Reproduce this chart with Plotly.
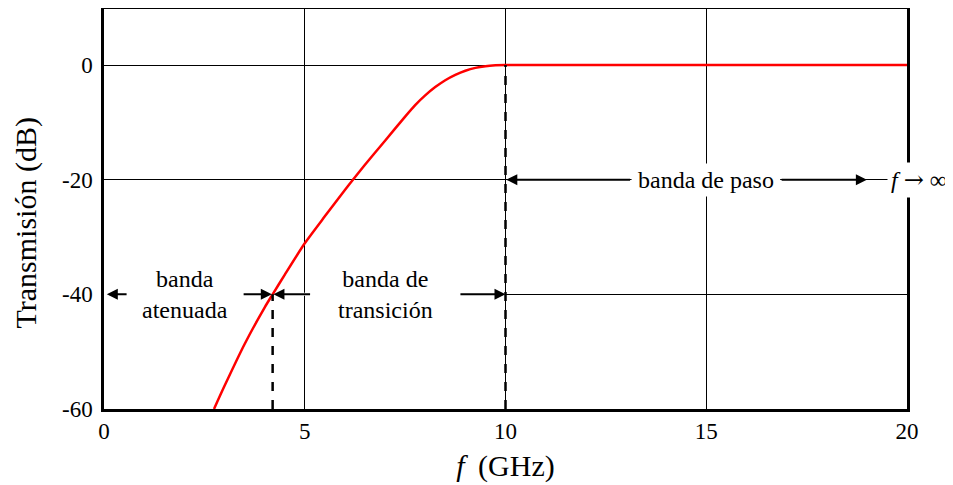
import plotly.graph_objects as go

# Data
freq_ghz = [2.74, 3.0, 3.5, 4.0, 4.2, 4.5, 5.0, 5.5, 6.0, 6.2, 6.5, 7.0, 7.5, 7.75, 8.0, 8.25, 8.5, 8.75, 9.0, 9.25, 9.5, 9.75, 10.0,
            10.5, 11.0, 12.0, 13.0, 14.0, 15.0, 16.0, 17.0, 18.0, 19.0, 20.0]
trans_db = [-60.0, -56.0, -48.7, -42.3, -40.0, -36.6, -31.1, -26.4, -21.8, -20.0, -17.4, -13.2, -9.0, -7.0, -5.3, -3.85, -2.65, -1.72, -1.0, -0.5, -0.2, -0.05, 0.0,
            0.0, 0.0, 0.0, 0.0, 0.0, 0.0, 0.0, 0.0, 0.0, 0.0, 0.0]

x_ticks = [0, 5, 10, 15, 20]
y_ticks = [-60, -40, -20, 0]
y_ticktext = ["-60", "-40", "-20", "0"]

stop_edge = 4.2      # GHz, -40 dB point
pass_edge = 10.0     # GHz, 0 dB point
level_stop = -40
level_pass = -20

FONT = "Liberation Serif"

fig = go.Figure()
fig.add_trace(go.Scatter(x=freq_ghz, y=trans_db, mode="lines",
                         line=dict(color="#ff0000", width=2.5, shape="spline", smoothing=0.6),
                         showlegend=False, hoverinfo="skip"))

shapes = [
    # dashed markers
    dict(type="line", xref="x", yref="y", x0=stop_edge, x1=stop_edge, y0=-60, y1=level_stop,
         line=dict(color="black", width=2.5, dash="dash"), layer="above"),
    dict(type="line", xref="x", yref="y", x0=pass_edge, x1=pass_edge, y0=-60, y1=0,
         line=dict(color="black", width=2.5, dash="dash"), layer="above"),
    # white cover of gridlines behind labels
    dict(type="line", xref="x", yref="y", x0=0, x1=pass_edge, y0=level_stop, y1=level_stop,
         line=dict(color="white", width=3), layer="between"),
    dict(type="line", xref="x", yref="y", x0=13.14, x1=16.84, y0=level_pass, y1=level_pass,
         line=dict(color="white", width=3), layer="between"),
]

def arrow(x_head, x_tail, y):
    return dict(x=x_head, y=y, ax=x_tail, ay=y, xref="x", yref="y", axref="x", ayref="y",
                text="", showarrow=True, arrowhead=2, arrowsize=1.1, arrowwidth=2,
                arrowcolor="black", standoff=0, startstandoff=0)

def label(x, y, text, pad=2, xref="x"):
    return dict(x=x, y=y, xref=xref, yref="y", text=text, showarrow=False,
                xanchor="center", yanchor="middle",
                font=dict(family=FONT, size=24, color="black"),
                bgcolor="white", borderpad=pad, align="center")

annotations = [
    arrow(0.07, 0.6, level_stop),
    arrow(stop_edge - 0.02, 3.44, level_stop),
    arrow(stop_edge + 0.02, 5.17, level_stop),
    arrow(pass_edge, 8.84, level_stop),
    arrow(pass_edge + 0.02, 13.14, level_pass),
    arrow(19.0, 16.84, level_pass),
    label(2.02, level_stop, "banda<br>atenuada"),
    label(7.01, level_stop, "banda de<br>transición"),
    label(15.0, level_pass, "banda de paso", pad=3),
    label(1.0149, level_pass,
          "<i>f</i> <span style='font-family:DejaVu Serif'>→</span> ∞", pad=3, xref="paper"),
    # y-axis title
    dict(x=-0.097, y=0.464, xref="paper", yref="paper", text="Transmisión (dB)",
         textangle=-90, showarrow=False, xanchor="center", yanchor="middle",
         font=dict(family=FONT, size=30, color="black")),
]

fig.update_layout(
    width=945, height=477,
    margin=dict(l=96, r=46, t=1, b=76, autoexpand=False),
    paper_bgcolor="white", plot_bgcolor="white",
    font=dict(family=FONT, size=23, color="black"),
    shapes=shapes, annotations=annotations,
    xaxis=dict(range=[0, 20], tickvals=x_ticks, ticks="", showgrid=True, gridcolor="black",
               gridwidth=1, zeroline=False, showline=True, linecolor="black", linewidth=2.5,
               mirror=True, tickfont=dict(family=FONT, size=23, color="black"),
               title=dict(text="<i>f</i> \u2009(GHz)", font=dict(family=FONT, size=30, color="black"), standoff=12),
               fixedrange=True),
    yaxis=dict(range=[-60, 9.77], tickvals=y_ticks, ticktext=y_ticktext, ticks="", showgrid=True,
               gridcolor="black", gridwidth=1, zeroline=False, showline=True, linecolor="black",
               linewidth=2.5, mirror=True, tickfont=dict(family=FONT, size=23, color="black"),
               ticklabelstandoff=4, fixedrange=True),
)

fig.write_html("out.html")
